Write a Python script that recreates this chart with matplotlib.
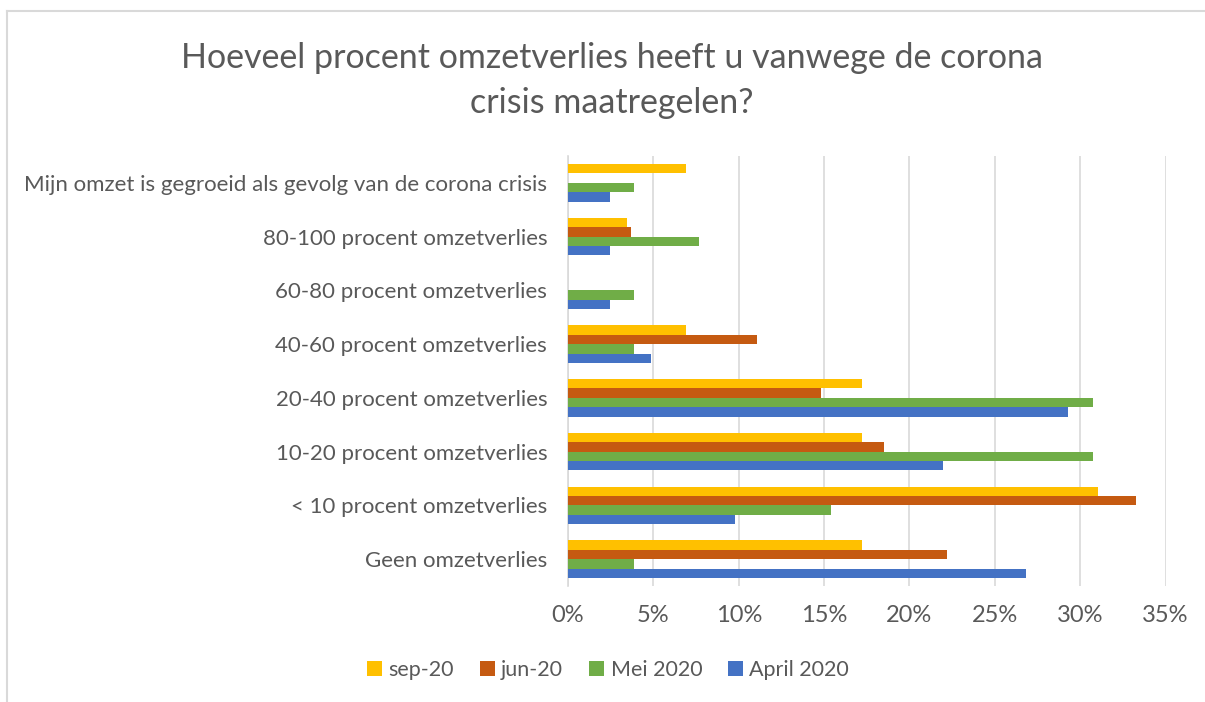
import matplotlib
matplotlib.use("Agg")
import matplotlib.pyplot as plt
import numpy as np
from matplotlib.lines import Line2D

plt.rcParams['font.family'] = ['Lato', 'DejaVu Sans']

categories = [
    "Mijn omzet is gegroeid als gevolg van de corona crisis",
    "80-100 procent omzetverlies",
    "60-80 procent omzetverlies",
    "40-60 procent omzetverlies",
    "20-40 procent omzetverlies",
    "10-20 procent omzetverlies",
    "< 10 procent omzetverlies",
    "Geen omzetverlies",
]
series_names = ["sep-20", "jun-20", "Mei 2020", "April 2020"]
sep20 = [6.9, 3.45, 0.0, 6.9, 17.24, 17.24, 31.03, 17.24]
jun20 = [0.0, 3.7, 0.0, 11.1, 14.8, 18.5, 33.3, 22.2]
mei2020 = [3.85, 7.69, 3.85, 3.85, 30.77, 30.77, 15.38, 3.85]
april2020 = [2.44, 2.44, 2.44, 4.88, 29.27, 21.95, 9.76, 26.83]
xticks = [0, 5, 10, 15, 20, 25, 30, 35]

colors = ["#FFC000", "#C55A11", "#70AD47", "#4472C4"]
data = [sep20, jun20, mei2020, april2020]

W, H = 1205, 702
fig = plt.figure(figsize=(W / 100, H / 100), dpi=100)
ax = fig.add_axes([568 / W, 1 - 586 / H, (1165.5 - 568) / W, (586 - 156) / H])

n = len(categories)
y = np.arange(n)
bh = 0.175
for i, (vals, col, name) in enumerate(zip(data, colors, series_names)):
    offs = (i - 1.5) * bh
    ax.barh(y + offs, vals, height=bh, color=col, label=name, zorder=3)

ax.set_ylim(n - 0.5, -0.5)
ax.set_xlim(0, 35)
ax.set_xticks(xticks)
ax.set_xticklabels([f"{t}%" for t in xticks])
ax.set_yticks(y)
ax.set_yticklabels(categories)
ax.tick_params(axis='both', length=0, labelcolor="#595959")
ax.tick_params(axis='x', labelsize=17, pad=14)
ax.tick_params(axis='y', labelsize=16, pad=15)
ax.grid(axis='x', color="#D9D9D9", linewidth=1.2, zorder=0)
for s in ['top', 'right', 'bottom']:
    ax.spines[s].set_visible(False)
ax.spines['left'].set_color("#D9D9D9")
ax.spines['left'].set_linewidth(1.2)

fig.text(612 / W, 1 - 58 / H, "Hoeveel procent omzetverlies heeft u vanwege de corona",
         ha='center', va='center', fontsize=24.5, color="#595959")
fig.text(612 / W, 1 - 103 / H, "crisis maatregelen?",
         ha='center', va='center', fontsize=24.5, color="#595959")

handles, labels = ax.get_legend_handles_labels()
fig.legend(handles, labels, loc='center', bbox_to_anchor=(608 / W, 1 - 670 / H),
           ncol=4, frameon=False, fontsize=15.5, labelcolor="#595959",
           handlelength=0.7, handleheight=0.7, handletextpad=0.3, columnspacing=1.2)

fig.add_artist(Line2D([6.5 / W, 1.0], [1 - 10.5 / H, 1 - 10.5 / H], transform=fig.transFigure,
                      color="#D9D9D9", linewidth=1.5))
fig.add_artist(Line2D([6.5 / W, 6.5 / W], [0.0, 1 - 10.5 / H], transform=fig.transFigure,
                      color="#D9D9D9", linewidth=1.5))

fig.savefig("out.png", dpi=100)
